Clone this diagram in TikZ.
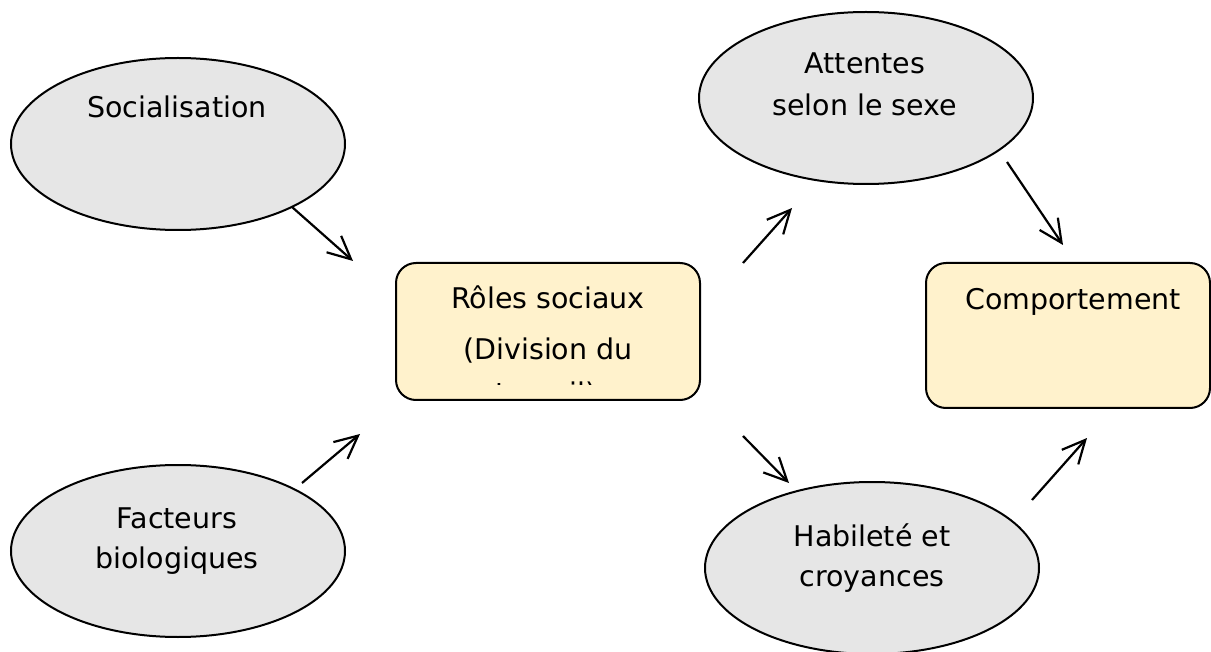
\documentclass[tikz,border=0pt]{standalone}
\usepackage{fontspec}
\setmainfont{DejaVu Sans}
\usepackage{xcolor}
\usetikzlibrary{shapes.geometric,arrows.meta}
\definecolor{ovalgray}{HTML}{E6E6E6}
\definecolor{boxyellow}{HTML}{FFF2CC}
\tikzset{
  oval/.style={ellipse,draw,line width=2pt,fill=ovalgray,minimum width=334pt,minimum height=172pt,inner sep=0pt},
  roundbox/.style={rectangle,draw,line width=2pt,fill=boxyellow,rounded corners=20pt,inner sep=0pt},
  txt/.style={anchor=base,inner sep=0pt,font=\fontsize{28.5}{34}\selectfont},
  link/.style={->,>={Straight Barb[length=23pt,width=22pt]},line width=2.2pt},
}

\begin{document}
\begin{tikzpicture}[x=1pt,y=-1pt]
\useasboundingbox (0,0) rectangle (1211,652);
\node[oval] (0) at (178,144) {};
\node[oval] (1) at (178,551) {};
\node[oval] (2) at (866,98) {};
\node[oval] (3) at (872,568) {};
\node[roundbox,minimum width=304pt,minimum height=137pt] (4) at (548,331.5) {};
\node[roundbox,minimum width=284pt,minimum height=145pt] (5) at (1068,335.5) {};
\node[txt] (t0) at (177,118) {Socialisation};
\node[txt] (t1) at (177,528) {Facteurs};
\node[txt] (t2) at (177,568) {biologiques};
\node[txt] (t3) at (865,74) {Attentes};
\node[txt] (t4) at (865,116) {selon le sexe};
\node[txt] (t5) at (872,546) {Habileté et};
\node[txt] (t6) at (872,586) {croyances};
\node[txt] (t7) at (548,309) {Rôles sociaux};
\node[txt] (t8) at (548,360) {(Division du};
\begin{scope}
\clip (396,263) rectangle (700,384.5);
\node[txt] (t9) at (546,403) {travail)};
\end{scope}
\node[txt] (t10) at (1073,310) {Comportement};
\coordinate (a0) at (292,207);
\coordinate (b0) at (353,261);
\coordinate (a1) at (302,483);
\coordinate (b1) at (360,434);
\coordinate (a2) at (743,263);
\coordinate (b2) at (792,208);
\coordinate (a3) at (743,436);
\coordinate (b3) at (789,483);
\coordinate (a4) at (1007,162);
\coordinate (b4) at (1063,245);
\coordinate (a5) at (1032,500);
\coordinate (b5) at (1087,438);
\draw [link](a0)--(b0);
\draw [link](a1)--(b1);
\draw [link](a2)--(b2);
\draw [link](a3)--(b3);
\draw [link](a4)--(b4);
\draw [link](a5)--(b5);
\end{tikzpicture}
\end{document}
